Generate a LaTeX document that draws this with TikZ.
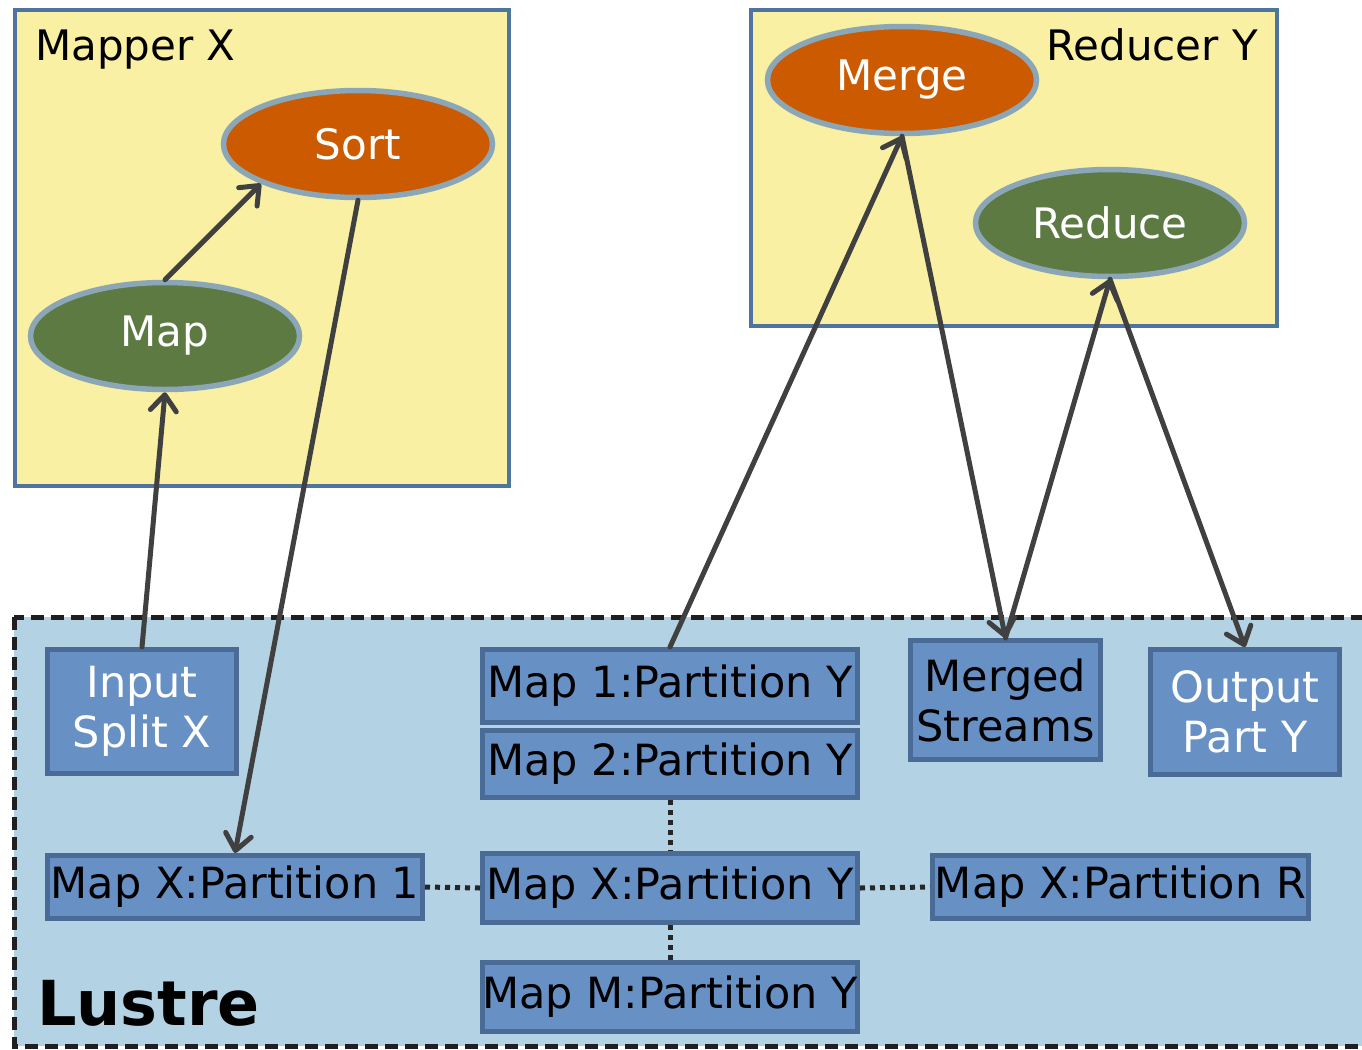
\documentclass[tikz,border=0pt]{standalone}
\usepackage{fontspec}
\setmainfont{DejaVu Sans}
\usetikzlibrary{shapes.geometric,arrows.meta}

\definecolor{frameyellow}{HTML}{F9F0A3}
\definecolor{frameborder}{HTML}{5074A0}
\definecolor{lustrefill}{HTML}{B3D2E4}
\definecolor{boxfill}{HTML}{6790C5}
\definecolor{boxborder}{HTML}{4B6B97}
\definecolor{sortorange}{HTML}{CC5A00}
\definecolor{mapgreen}{HTML}{5E7A43}
\definecolor{ellborder}{HTML}{8BA6B7}
\definecolor{arrowgray}{HTML}{404040}

\tikzset{
  stagebox/.style={draw=frameborder, line width=4.5pt, fill=frameyellow},
  task/.style={ellipse, draw=ellborder, line width=5.5pt, text=white,
    minimum width=269pt, minimum height=107pt, inner sep=0pt,
    font=\fontsize{42}{48}\selectfont},
  orangetask/.style={task, fill=sortorange},
  greentask/.style={task, fill=mapgreen},
  filebox/.style={rectangle, draw=boxborder, line width=5pt, fill=boxfill,
    inner sep=0pt, align=center, font=\fontsize{43}{50}\selectfont},
  flow/.style={draw=arrowgray, line width=5pt, line cap=round,
    -{Straight Barb[length=16pt,width=26pt,round]}},
  link/.style={draw=black!85, line width=5pt, dash pattern=on 5pt off 5pt},
  caption/.style={inner sep=0pt, font=\fontsize{42}{50}\selectfont},
}

\begin{document}
\begin{tikzpicture}[x=1pt, y=-1pt]
  \clip (0,0) rectangle (1362,1049);
  \fill[white] (0,0) rectangle (1362,1049);

  % containers
  \node[stagebox, minimum width=494pt, minimum height=476pt, inner sep=0pt] (mapper) at (262,248) {};
  \node[stagebox, minimum width=526pt, minimum height=316pt, inner sep=0pt] (reducer) at (1014,168) {};
  \draw[line width=5pt, fill=lustrefill, draw=black!88, dash pattern=on 13pt off 7pt]
    (14,617) rectangle (1380,1046);

  \node[caption, anchor=base west] (mappercap) at (35,60) {Mapper X};
  \node[caption, anchor=base east] (reducercap) at (1258,60) {Reducer Y};
  \node[inner sep=0pt, anchor=base west, font=\fontsize{62}{70}\selectfont\bfseries] (lustrecap) at (37,1025) {Lustre};

  % tasks
  \node[orangetask] (sort) at (358,144) {Sort};
  \node[greentask] (map) at (165,336) {Map};
  \node[orangetask] (merge) at (902,80) {Merge};
  \node[greentask] (reduce) at (1110,223) {Reduce};

  % files on Lustre
  \node[filebox, text=white, minimum width=189pt, minimum height=124pt] (input) at (142,711.5) {Input\\Split X};
  \node[filebox, minimum width=375pt, minimum height=73pt] (m1) at (670,686) {Map 1:Partition Y};
  \node[filebox, minimum width=375pt, minimum height=67pt] (m2) at (670,764) {Map 2:Partition Y};
  \node[filebox, minimum width=190pt, minimum height=119pt] (ms) at (1005.5,700) {Merged\\Streams};
  \node[filebox, text=white, minimum width=189pt, minimum height=125pt] (out) at (1245,712) {Output\\Part Y};
  \node[filebox, minimum width=375pt, minimum height=63pt] (p1) at (235,887) {Map X:Partition 1};
  \node[filebox, minimum width=375pt, minimum height=69pt] (pxy) at (670,888) {Map X:Partition Y};
  \node[filebox, minimum width=376pt, minimum height=63pt] (pr) at (1120.5,887) {Map X:Partition R};
  \node[filebox, minimum width=375pt, minimum height=69pt] (mm) at (670,997) {Map M:Partition Y};

  % partition links
  \draw[link] (m2.south) -- (pxy.north);
  \draw[link] (pxy.south) -- (mm.north);
  \draw[link] (p1.east) -- (pxy.west);
  \draw[link] (pxy.east) -- (pr.west);

  % data flow
  \draw[flow] (input.north) -- (map.south);
  \draw[flow] (map.north) -- (sort.south west);
  \draw[flow] (sort.south) -- (p1.north);
  \draw[flow] (m1.north) -- (merge.south);
  \draw[flow] (merge.south) -- (ms.north);
  \draw[flow] (ms.north) -- (reduce.south);
  \draw[flow] (reduce.south) -- (out.north);
\end{tikzpicture}
\end{document}
